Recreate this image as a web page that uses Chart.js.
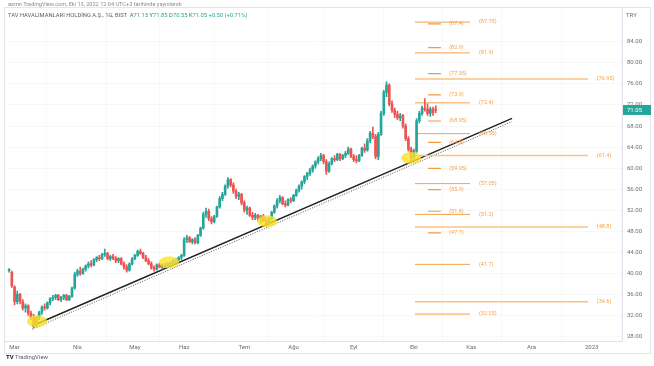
<!DOCTYPE html>
<html lang="tr">
<head>
<meta charset="utf-8">
<title>TAV Havalimanları Holding - BIST</title>
<script src="https://cdn.jsdelivr.net/npm/chart.js@4.4.0/dist/chart.umd.min.js"></script>
<style>
  body { margin: 0; background: #fff; font-family: Roboto, "Liberation Sans", sans-serif; }
  #wrap { position: relative; width: 654px; height: 366px; overflow: hidden; }
  #chart { position: absolute; left: 0; top: 0; }
  .note { position: absolute; white-space: nowrap; line-height: 1; }
  #published { left: 8px; top: 2px; font-size: 5.6px; color: #8a8c94; }
  #symbol { left: 8px; top: 12.5px; font-size: 5.8px; color: #5d606b; }
  #symbol span { color: #26a69a; }
  #logo { left: 6px; top: 354px; font-size: 6px; color: #5d606b; }
  #logo b { color: #131722; }
</style>
</head>
<body>
<div id="wrap">
  <canvas id="chart" width="654" height="366"></canvas>
  <div class="note" id="published">asmn TradingView.com, Eki 13, 2022 12:04 UTC+3 tarihinde yayınlandı</div>
  <div class="note" id="symbol">TAV HAVALİMANLARI HOLDİNG A.Ş., 1G, BIST &nbsp;A<span>71.15</span> Y<span>71.85</span> D<span>70.55</span> K<span>71.05</span> <span>+0.50 (+0.71%)</span></div>
  <div class="note" id="logo"><b>TV</b> TradingView</div>
</div>
<script>
// DATA

// time axis: first trading day of each month, counted in daily bars from 1 Mar 2022
const monthLabels = ["Mar", "Nis", "May", "Haz", "Tem", "Ağu", "Eyl", "Eki", "Kas", "Ara", "2023"];
const monthStarts = [0, 23, 44, 62, 84, 102, 124, 146, 167, 189, 211];
const priceTicks = [28, 32, 36, 40, 44, 48, 52, 56, 60, 64, 68, 72, 76, 80, 84];

// daily candles, first one is two bars before 1 Mar
const firstBar = -2;
const opens = [
  40.5, 40.2,
  37.4, 34.6, 36.0, 34.6, 33.4, 33.8, 32.4, 31.6, 30.2, 31.6, 32.6, 33.6, 33.4, 34.4, 35.2, 35.4, 35.8, 35.0, 35.4, 35.8, 35.0, 35.6, 37.2,
  39.8, 40.4, 40.0, 40.8, 41.4, 41.8, 41.6, 42.6, 43.0, 42.8, 43.6, 43.8, 42.8, 43.2, 42.8, 42.4, 42.8, 41.8, 41.2, 40.6, 41.8,
  42.8, 43.4, 44.2, 43.8, 43.0, 42.4, 41.8, 41.0, 40.8, 41.6, 41.2, 41.6, 41.4, 41.8, 42.0, 42.4, 42.6, 43.0,
  43.4, 46.4, 46.8, 46.0, 46.4, 45.8, 47.2, 48.6, 51.2, 51.8, 50.4, 49.8, 50.8, 52.6, 54.2, 55.0, 56.6, 57.8, 56.8, 55.6, 54.6, 55.0,
  53.4, 52.0, 52.4, 51.0, 50.6, 51.0, 50.4, 50.8, 50.0, 49.4, 50.4, 51.6, 52.8, 53.8, 54.4, 53.2, 53.0, 54.0,
  53.8, 54.8, 55.8, 56.6, 57.4, 58.4, 59.0, 59.6, 60.4, 61.2, 61.8, 62.4, 61.2, 59.4, 60.8, 61.8, 61.6, 62.6, 61.8, 62.4, 62.8, 63.6,
  62.2, 61.6, 61.4, 62.4, 63.8, 63.4, 65.2, 66.6, 66.0, 62.2, 66.4, 70.4, 74.4, 75.8, 72.2, 71.0, 70.2, 69.6, 70.0, 68.0, 65.6, 63.6,
  62.0, 63.2, 69.0, 70.4, 71.4, 71.2, 70.4, 71.2, 71.15
];
const highs = [
  40.9, 40.4,
  37.6, 36.6, 36.2, 35.0, 34.2, 34.0, 32.8, 32.2, 31.8, 32.8, 33.8, 34.2, 34.6, 35.4, 35.8, 36.0, 36.0, 35.6, 36.0, 36.0, 35.8, 37.4, 40.2,
  40.8, 41.2, 41.0, 41.6, 42.2, 42.4, 42.8, 43.2, 43.4, 43.8, 44.6, 44.0, 43.4, 43.6, 43.2, 43.0, 43.0, 42.2, 41.6, 42.0, 43.0,
  43.6, 44.4, 44.6, 44.0, 43.4, 42.8, 42.2, 41.4, 41.8, 42.0, 41.8, 42.0, 42.0, 42.2, 42.6, 42.8, 43.2, 43.6,
  46.8, 47.2, 47.0, 46.6, 46.8, 47.4, 48.8, 51.6, 52.4, 52.2, 50.8, 51.0, 52.8, 54.6, 55.4, 56.8, 58.2, 58.0, 57.2, 56.0, 55.4, 55.2,
  53.8, 52.8, 52.6, 51.6, 51.4, 51.2, 51.0, 51.2, 50.6, 50.6, 51.8, 53.0, 54.2, 54.8, 54.6, 53.8, 54.2, 54.4,
  55.0, 56.0, 56.8, 57.6, 58.6, 59.2, 60.0, 60.6, 61.4, 62.2, 62.8, 62.6, 61.6, 61.2, 62.0, 62.4, 62.8, 62.8, 62.6, 63.2, 64.0, 63.8,
  62.6, 62.4, 62.6, 64.0, 64.6, 65.6, 67.0, 67.8, 66.4, 66.8, 70.8, 74.8, 76.4, 76.0, 72.8, 71.4, 70.8, 70.4, 70.2, 68.4, 66.0, 64.0,
  63.6, 69.4, 70.8, 71.8, 73.2, 72.2, 71.6, 71.6, 71.85
];
const lows = [
  40.2, 37.3,
  34.0, 34.2, 34.2, 33.0, 32.6, 32.0, 31.2, 29.6, 29.8, 31.2, 32.2, 33.0, 33.2, 34.0, 34.8, 35.0, 34.8, 34.6, 35.0, 34.8, 34.8, 35.4, 37.0,
  39.4, 39.6, 39.8, 40.4, 41.0, 41.2, 41.4, 42.2, 42.4, 42.6, 43.2, 42.6, 42.4, 42.6, 42.0, 42.0, 41.6, 40.8, 40.2, 40.4, 41.6,
  42.6, 43.2, 43.6, 42.8, 42.2, 41.6, 40.8, 40.4, 40.6, 41.0, 40.8, 41.0, 41.2, 41.4, 41.6, 42.0, 42.2, 42.6,
  43.2, 45.8, 45.8, 45.6, 45.6, 45.6, 47.0, 48.4, 50.6, 50.0, 49.4, 49.6, 50.6, 52.4, 53.8, 54.8, 56.2, 56.4, 55.2, 54.2, 54.0, 53.0,
  51.6, 51.2, 50.8, 50.2, 50.2, 50.0, 49.6, 49.8, 49.0, 49.2, 50.2, 51.4, 52.4, 53.4, 53.0, 52.6, 52.8, 53.4,
  53.6, 54.6, 55.4, 56.0, 57.0, 57.8, 58.6, 59.2, 60.0, 60.8, 61.4, 60.8, 58.8, 59.2, 60.6, 61.2, 61.4, 61.4, 61.6, 62.0, 62.6, 62.0,
  61.2, 61.0, 61.2, 62.2, 63.0, 63.2, 64.8, 65.6, 61.8, 61.6, 66.2, 70.0, 73.6, 71.8, 70.6, 69.6, 69.2, 69.0, 67.6, 65.2, 63.2, 61.2,
  61.6, 63.0, 68.6, 70.0, 70.8, 70.0, 69.8, 70.0, 70.55
];
const closes = [
  40.7, 37.6,
  34.6, 36.0, 34.6, 33.4, 33.8, 32.4, 31.6, 30.2, 31.6, 32.6, 33.6, 33.4, 34.4, 35.2, 35.4, 35.8, 35.0, 35.4, 35.8, 35.0, 35.6, 37.2, 39.8,
  40.4, 40.0, 40.8, 41.4, 41.8, 41.6, 42.6, 43.0, 42.8, 43.6, 43.8, 42.8, 43.2, 42.8, 42.4, 42.8, 41.8, 41.2, 40.6, 41.8, 42.8,
  43.4, 44.2, 43.8, 43.0, 42.4, 41.8, 41.0, 40.8, 41.6, 41.2, 41.6, 41.4, 41.8, 42.0, 42.4, 42.6, 43.0, 43.4,
  46.4, 46.8, 46.0, 46.4, 45.8, 47.2, 48.6, 51.2, 51.8, 50.4, 49.8, 50.8, 52.6, 54.2, 55.0, 56.6, 57.8, 56.8, 55.6, 54.6, 55.0, 53.4,
  52.0, 52.4, 51.0, 50.6, 51.0, 50.4, 50.8, 50.0, 49.4, 50.4, 51.6, 52.8, 53.8, 54.4, 53.2, 53.0, 54.0, 53.8,
  54.8, 55.8, 56.6, 57.4, 58.4, 59.0, 59.6, 60.4, 61.2, 61.8, 62.4, 61.2, 59.4, 60.8, 61.8, 61.6, 62.6, 61.8, 62.4, 62.8, 63.6, 62.2,
  61.6, 61.4, 62.4, 63.8, 63.4, 65.2, 66.6, 66.0, 62.2, 66.4, 70.4, 74.4, 75.8, 72.2, 71.0, 70.2, 69.6, 70.0, 68.0, 65.6, 63.6, 62.0,
  63.2, 69.0, 70.4, 71.4, 71.2, 70.4, 71.2, 70.55, 71.05
];

// drawn levels on the right side (price, label text)
const shortLevels = [87.4, 82.9, 77.95, 73.9, 68.95, 64.9, 59.95, 55.9, 51.8, 47.7];
const shortLabels = ["(87.4)", "(82.9)", "(77.95)", "(73.9)", "(68.95)", "(64.9)", "(59.95)", "(55.9)", "(51.8)", "(47.7)"];
const midLevels = [87.75, 81.9, 72.4, 66.55, 57.05, 51.2, 41.7, 32.25];
const midLabels = ["(87.75)", "(81.9)", "(72.4)", "(66.55)", "(57.05)", "(51.2)", "(41.7)", "(32.25)"];
const longLevels = [76.95, 62.4, 48.8, 34.6];
const longLabels = ["(76.95)", "(61.4)", "(48.8)", "(34.6)"];

// rising support line (bar, price) and the touch points marked in yellow
const trendStart = [6.4, 29.98];
const trendEnd = [181.9, 69.45];
const touchBars = [8.2, 56.5, 92.3, 145];
const touchPrices = [30.9, 42.1, 49.9, 61.9];

const lastPrice = 71.05;

// SETUP

const UP = "#26a69a";
const DOWN = "#ef5350";
const ORANGE = "#f5a24a";
const textFont = "Roboto, 'Liberation Sans', sans-serif";

const candleColors = opens.map((o, i) => closes[i] >= o ? UP : DOWN);

const wickData = highs.map((h, i) => ({ x: firstBar + i, y: [lows[i], h] }));
const bodyData = opens.map((o, i) => ({ x: firstBar + i, y: [Math.min(o, closes[i]), Math.max(o, closes[i])] }));

// bar spans of the drawn level lines and where their labels begin
const spans = {
  short: { from: 151.2, to: 155.9, label: 158.9, color: "#f39a3c", width: 1.2 },
  mid: { from: 146.4, to: 166.5, label: 169.8, color: ORANGE, width: 1 },
  long: { from: 146.4, to: 209.7, label: 212.9, color: "#f8c384", width: 1.6 }
};

function levelDatasets(levels, span) {
  return levels.map(v => ({
    type: "line",
    data: [{ x: span.from, y: v }, { x: span.to, y: v }],
    borderColor: span.color,
    borderWidth: span.width,
    pointRadius: 0,
    order: 2
  }));
}

const datasets = [
  {
    type: "bar",
    data: wickData,
    backgroundColor: candleColors,
    barThickness: 1,
    grouped: false,
    order: 1
  },
  {
    type: "bar",
    data: bodyData,
    backgroundColor: candleColors,
    barThickness: 2,
    minBarLength: 1,
    grouped: false,
    order: 0
  },
  {
    type: "line",
    data: [{ x: trendStart[0], y: trendStart[1] }, { x: trendEnd[0], y: trendEnd[1] }],
    borderColor: "#222",
    borderWidth: 1.4,
    pointRadius: 0,
    order: 3
  },
  {
    type: "line",
    data: [{ x: trendStart[0], y: trendStart[1] - 0.6 }, { x: trendEnd[0], y: trendEnd[1] - 0.6 }],
    borderColor: "#555",
    borderWidth: 1,
    borderDash: [1, 1.5],
    pointRadius: 0,
    order: 3
  },
  ...levelDatasets(shortLevels, spans.short),
  ...levelDatasets(midLevels, spans.mid),
  ...levelDatasets(longLevels, spans.long)
];

// DRAWINGS ON TOP (labels, yellow marks, price tag)
const overlay = {
  id: "overlay",
  beforeDraw(chart) {
    const ctx = chart.ctx;
    ctx.save();
    ctx.strokeStyle = "#e3e5ea";
    ctx.lineWidth = 1;
    ctx.strokeRect(4.5, 7.5, 646, 346);
    ctx.restore();
  },
  afterDatasetsDraw(chart) {
    const { ctx, scales: { x, y } } = chart;
    ctx.save();
    ctx.font = "5.5px " + textFont;
    ctx.fillStyle = ORANGE;
    ctx.textBaseline = "middle";
    const put = (levels, labels, span) => {
      levels.forEach((v, i) => ctx.fillText(labels[i], x.getPixelForValue(span.label), y.getPixelForValue(v)));
    };
    put(shortLevels, shortLabels, spans.short);
    put(midLevels, midLabels, spans.mid);
    put(longLevels, longLabels, spans.long);

    ctx.fillStyle = "rgba(252, 226, 40, 0.8)";
    touchBars.forEach((b, i) => {
      ctx.beginPath();
      ctx.ellipse(x.getPixelForValue(b), y.getPixelForValue(touchPrices[i]), 10, 6, 0, 0, Math.PI * 2);
      ctx.fill();
    });
    ctx.restore();
  },
  afterDraw(chart) {
    const { ctx, scales: { y } } = chart;
    const py = y.getPixelForValue(lastPrice);
    ctx.save();
    ctx.fillStyle = UP;
    ctx.fillRect(y.left + 1, py - 5, 28, 10);
    ctx.fillStyle = "#fff";
    ctx.font = "6px " + textFont;
    ctx.textBaseline = "middle";
    ctx.fillText(lastPrice.toFixed(2), y.left + 5, py + 0.5);
    ctx.fillStyle = "#6a6d78";
    ctx.fillText("TRY", y.left + 4, 15);
    ctx.restore();
  }
};

const chart = new Chart(document.getElementById("chart"), {
  type: "bar",
  data: { datasets },
  options: {
    responsive: false,
    animation: false,
    events: [],
    layout: { padding: { left: 5, top: 8, right: 0, bottom: 0 } },
    plugins: { legend: { display: false }, tooltip: { enabled: false } },
    scales: {
      x: {
        type: "linear",
        min: -3.5,
        max: 222.1,
        offset: false,
        afterBuildTicks: axis => { axis.ticks = monthStarts.map(v => ({ value: v })); },
        afterFit: axis => { axis.height = 25; },
        ticks: {
          autoSkip: false,
          maxRotation: 0,
          padding: 3,
          color: "#6a6d78",
          font: { family: textFont, size: 6 },
          callback: v => monthLabels[monthStarts.indexOf(v)]
        },
        grid: { color: "rgba(42,46,57,0.035)", drawTicks: false },
        border: { color: "#e0e3eb" }
      },
      y: {
        position: "right",
        min: 27.13,
        max: 90.32,
        afterBuildTicks: axis => { axis.ticks = priceTicks.map(v => ({ value: v })); },
        afterFit: axis => { axis.width = 32; },
        ticks: {
          padding: 5,
          color: "#6a6d78",
          font: { family: textFont, size: 6 },
          callback: v => v.toFixed(2)
        },
        grid: { color: "rgba(42,46,57,0.035)", drawTicks: false },
        border: { color: "#e0e3eb" }
      }
    }
  },
  plugins: [overlay]
});
</script>
</body>
</html>
